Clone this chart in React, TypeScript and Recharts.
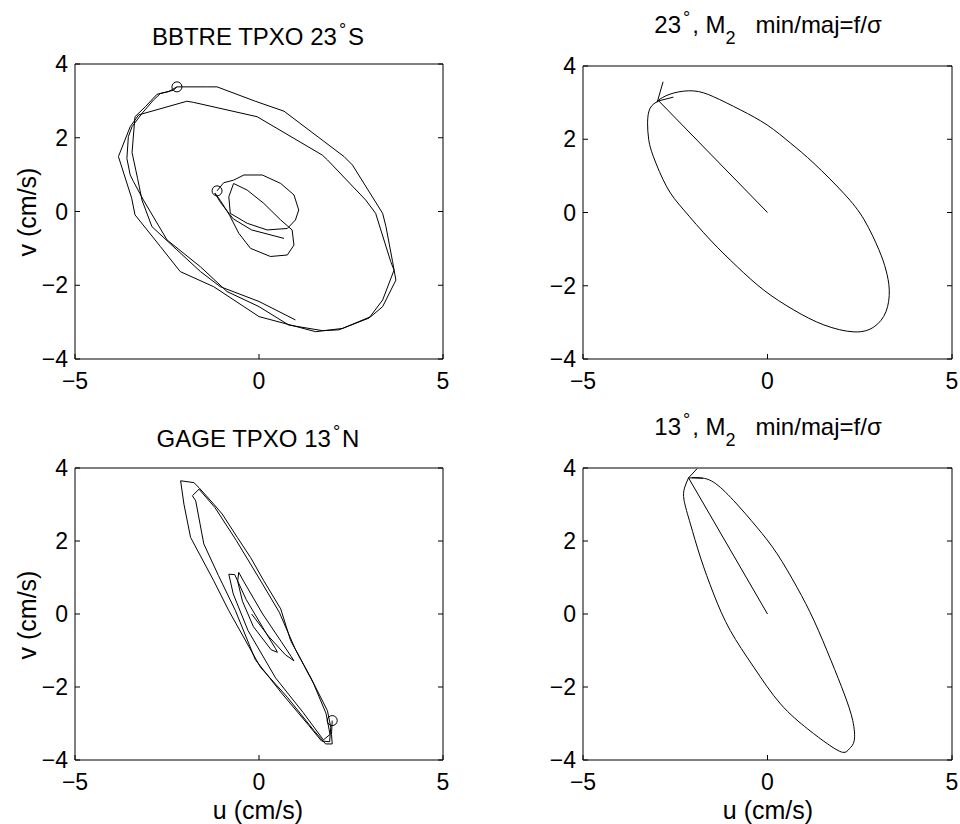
import React from "react";
import { LineChart, Line, XAxis, YAxis } from "recharts";

type Pt = [number, number];

const xTicks = [-5, 0, 5];
const yTicks = [-4, -2, 0, 2, 4];

// BBTRE 23S, TPXO hodograph: 2.5 turns round the big ellipse, starting at the circle
const bbtreOuter: Pt[] = [
  [-2.23, 3.38], [-2.32, 3.29], [-2.68, 3.2], [-2.87, 3.02], [-3.18, 2.66], [-3.45, 2.3],
  [-3.55, 2.03], [-3.59, 1.44], [-3.5, 0.99], [-3.41, 0.81], [-3.14, 0.31], [-2.5, -0.77],
  [-1.59, -1.5], [-0.87, -2.17], [0.0, -2.58], [0.81, -3.08], [1.72, -3.23], [2.17, -3.21],
  [2.99, -2.89], [3.36, -2.4], [3.67, -1.59], [3.58, -1.36], [3.17, -0.05], [2.9, 0.31],
  [1.86, 1.4], [1.72, 1.53], [-0.05, 2.57], [-1.78, 2.96], [-1.96, 2.99], [-3.27, 2.62],
  [-3.5, 2.3], [-3.82, 1.49], [-3.46, 0.36], [-3.37, -0.09], [-2.68, -0.95], [-2.14, -1.63],
  [-1.23, -2.04], [-0.41, -2.58], [0.0, -2.85], [1.54, -3.26], [2.27, -3.17], [3.04, -2.85],
  [3.36, -2.58], [3.72, -1.86], [3.63, -1.36], [3.45, -0.41], [3.36, -0.05], [2.54, 1.26],
  [2.31, 1.49], [0.68, 2.72], [-0.1, 2.99], [-1.14, 3.38], [-1.41, 3.38], [-2.23, 3.38],
  [-2.46, 3.25], [-2.77, 3.18], [-3.09, 2.84], [-3.37, 2.57], [-3.45, 1.6], [-3.3, 0.9],
  [-3.18, 0.31], [-2.91, -0.41], [-2.23, -1.04], [-1.59, -1.63], [-1.05, -2.04], [0.0, -2.44],
  [0.99, -2.94],
];

// BBTRE small ellipse (second record)
const bbtreInner: Pt[] = [
  [-1.14, 0.56], [-0.96, 0.78], [-0.69, 0.85], [-0.41, 0.99], [0.09, 0.99], [0.59, 0.76],
  [0.95, 0.45], [1.08, 0.04], [0.99, -0.23], [0.77, -0.46], [0.22, -0.5], [-0.32, -0.32],
  [-0.78, -0.05], [-0.82, 0.4], [-0.69, 0.76], [-0.32, 0.58], [0.13, 0.22], [0.59, -0.23],
  [0.9, -0.5], [0.95, -0.91], [0.77, -1.18], [0.31, -1.22], [-0.23, -1.0], [-0.55, -0.59],
  [-0.8, -0.1], [-1.05, 0.3], [-1.2, 0.5], [-1.05, 0.25], [-0.7, -0.2], [-0.2, -0.5],
  [0.68, -0.73],
];

const bbtreStarts: Pt[] = [[-2.23, 3.38], [-1.14, 0.56]];

// GAGE 13N, TPXO hodograph
const gageTrace: Pt[] = [
  [1.99, -2.92], [1.97, -3.3], [1.99, -3.56], [1.81, -3.56], [1.49, -3.19], [0.77, -2.28],
  [0.04, -1.46], [-0.82, 0.09], [-1.23, 0.91], [-1.86, 2.1], [-2.04, 3.01], [-2.13, 3.65],
  [-1.77, 3.6], [-1.63, 3.46], [-1.23, 3.01], [-1.0, 2.74], [-0.59, 2.1], [-0.23, 1.55],
  [0.13, 0.91], [0.59, 0.14], [0.86, -0.73], [1.4, -1.73], [1.86, -2.65], [1.95, -3.1],
  [1.92, -3.5], [1.7, -3.48], [1.35, -3.05], [0.6, -2.15], [-0.1, -1.25], [-0.64, 0.09],
  [-1.1, 1.05], [-1.5, 1.92], [-1.72, 3.1], [-1.81, 3.24], [-1.63, 3.42], [-1.2, 2.92],
  [-0.62, 2.02], [0.08, 0.85], [0.55, 0.05], [0.98, -0.95], [1.48, -1.9], [1.82, -2.72],
  [1.93, -3.3], [1.75, -3.45], [1.2, -2.7], [0.45, -1.75], [-0.3, -0.45], [-0.7, 0.55],
  [-0.82, 1.09], [-0.66, 1.08], [-0.35, 0.4], [0.15, -0.45], [0.45, -0.95], [0.5, -1.05],
  [0.33, -0.98], [-0.15, -0.35], [-0.45, 0.35], [-0.58, 0.9], [-0.55, 1.14], [-0.42, 0.9],
  [0.1, 0.0], [0.6, -0.75], [0.95, -1.28], [0.72, -1.12], [0.25, -0.6], [-0.2, 0.0],
];

const gageStarts: Pt[] = [[1.99, -2.92]];

// M2 ellipse at 23 degrees
const ellipse23: Pt[] = [
  [-2.95, 3.05], [-3.18, 2.85], [-3.25, 2.45], [-3.22, 2.0], [-3.09, 1.52], [-2.73, 0.7],
  [-2.27, 0.07], [-1.55, -0.75], [-0.82, -1.48], [-0.1, -2.12], [0.71, -2.66], [1.53, -3.07],
  [2.35, -3.26], [2.89, -3.12], [3.21, -2.71], [3.3, -2.12], [3.21, -1.57], [3.02, -1.02],
  [2.62, -0.2], [2.07, 0.52], [1.26, 1.34], [0.63, 1.89], [-0.01, 2.39], [-0.73, 2.8],
  [-1.46, 3.16], [-2.0, 3.32], [-2.55, 3.26], [-2.91, 3.1], [-3.0, 3.0],
];
const axis23: Pt[] = [[0, 0], [-2.95, 3.05]];
const arrow23: Pt[] = [[-2.83, 3.57], [-2.98, 3.04], [-2.55, 3.15]];

// M2 ellipse at 13 degrees
const ellipse13: Pt[] = [
  [-2.14, 3.73], [-2.25, 3.45], [-2.26, 3.11], [-2.09, 2.47], [-1.82, 1.56], [-1.46, 0.55],
  [-1.01, -0.45], [-0.37, -1.46], [0.35, -2.46], [1.09, -3.15], [1.63, -3.56], [2.04, -3.79],
  [2.22, -3.69], [2.35, -3.47], [2.31, -2.92], [2.08, -2.19], [1.72, -1.27], [1.26, -0.18],
  [0.8, 0.73], [0.26, 1.65], [-0.29, 2.38], [-0.92, 3.11], [-1.46, 3.61], [-1.82, 3.73],
  [-2.05, 3.74],
];
const axis13: Pt[] = [[0, 0], [-2.14, 3.73]];
const arrow13: Pt[] = [[-1.91, 3.98], [-2.14, 3.73], [-1.75, 3.72]];

const toRows = (pts: Pt[]) => pts.map(([u, v]) => ({ u, v }));

const FONT = '"Liberation Sans", Arial, Helvetica, sans-serif';
const fmt = (n: number) => (n < 0 ? `\u2212${-n}` : `${n}`);
const tickText = { fill: "#000", fontSize: 23, fontFamily: FONT };
const black = { stroke: "#000", strokeWidth: 1 };

type Trace = { pts: Pt[]; curve?: "linear" | "natural"; marker?: boolean };
type Box = { l: number; t: number; r: number; b: number };

function Panel({ left, top, box, traces }: { left: number; top: number; box: Box; traces: Trace[] }) {
  const w = 480;
  const h = 400;
  // every axis is 1px thick so that Recharts still draws it; margins make up the rest
  return (
    <div style={{ position: "absolute", left, top }}>
      <LineChart
        width={w}
        height={h}
        margin={{ left: box.l - 1, top: box.t - 1, right: w - box.r - 1, bottom: h - box.b - 1 }}
      >
        <XAxis
          type="number"
          dataKey="u"
          domain={[-5, 5]}
          ticks={xTicks}
          interval={0}
          allowDataOverflow
          height={1}
          tickSize={-5}
          tickMargin={19}
          tick={tickText}
          tickFormatter={fmt}
          axisLine={black}
          tickLine={black}
        />
        <XAxis
          xAxisId="top"
          orientation="top"
          type="number"
          domain={[-5, 5]}
          ticks={xTicks}
          interval={0}
          allowDataOverflow
          height={1}
          tickSize={-5}
          tickFormatter={() => ""}
          axisLine={black}
          tickLine={black}
        />
        <YAxis
          type="number"
          domain={[-4, 4]}
          ticks={yTicks}
          interval={0}
          allowDataOverflow
          width={1}
          tickSize={-5}
          tickMargin={12}
          tick={tickText}
          tickFormatter={fmt}
          axisLine={black}
          tickLine={black}
        />
        <YAxis
          yAxisId="right"
          orientation="right"
          type="number"
          domain={[-4, 4]}
          ticks={yTicks}
          interval={0}
          allowDataOverflow
          width={1}
          tickSize={-5}
          tickFormatter={() => ""}
          axisLine={black}
          tickLine={black}
        />
        {traces.map((t, i) =>
          t.marker ? (
            <Line
              key={i}
              data={toRows(t.pts)}
              dataKey="v"
              stroke="none"
              dot={{ r: 5, fill: "none", stroke: "#000", strokeWidth: 1 }}
              activeDot={false}
              isAnimationActive={false}
            />
          ) : (
            <Line
              key={i}
              data={toRows(t.pts)}
              dataKey="v"
              type={t.curve ?? "linear"}
              stroke="#000"
              strokeWidth={1}
              dot={false}
              activeDot={false}
              isAnimationActive={false}
            />
          )
        )}
      </LineChart>
    </div>
  );
}

const deg = (
  <span style={{ fontSize: 18, position: "relative", top: -9, margin: "0 2px" }}>°</span>
);
const sub2 = <span style={{ fontSize: 18, position: "relative", top: 11 }}>2</span>;

function Title({ cx, baseline, children }: { cx: number; baseline: number; children: React.ReactNode }) {
  return (
    <div
      style={{
        position: "absolute",
        left: cx - 200,
        width: 400,
        top: baseline - 20.5,
        textAlign: "center",
        fontFamily: FONT,
        fontSize: 24,
        lineHeight: "24px",
        whiteSpace: "pre",
        color: "#000",
      }}
    >
      {children}
    </div>
  );
}

function AxisLabel({ cx, cy, rotate, text }: { cx: number; cy: number; rotate?: boolean; text: string }) {
  return (
    <div
      style={{
        position: "absolute",
        left: cx,
        top: cy,
        transform: `translate(-50%, -50%)${rotate ? " rotate(-90deg)" : ""}`,
        fontFamily: FONT,
        fontSize: 25,
        lineHeight: "28px",
        whiteSpace: "nowrap",
        color: "#000",
      }}
    >
      {text}
    </div>
  );
}

export default function App() {
  return (
    <div style={{ position: "absolute", left: 0, top: 0, width: 960, height: 824, background: "#fff" }}>
      <Panel
        left={0}
        top={0}
        box={{ l: 75, t: 64, r: 443, b: 359 }}
        traces={[{ pts: bbtreOuter }, { pts: bbtreInner }, { pts: bbtreStarts, marker: true }]}
      />
      <Panel
        left={480}
        top={0}
        box={{ l: 103, t: 66, r: 472, b: 359 }}
        traces={[{ pts: ellipse23, curve: "natural" }, { pts: axis23 }, { pts: arrow23 }]}
      />
      <Panel
        left={0}
        top={400}
        box={{ l: 75, t: 68, r: 443, b: 360 }}
        traces={[{ pts: gageTrace }, { pts: gageStarts, marker: true }]}
      />
      <Panel
        left={480}
        top={400}
        box={{ l: 103, t: 68, r: 472, b: 360 }}
        traces={[{ pts: ellipse13, curve: "natural" }, { pts: axis13 }, { pts: arrow13 }]}
      />

      <Title cx={258} baseline={45}>BBTRE TPXO 23{deg}S</Title>
      <Title cx={768} baseline={33}>23{deg}, M{sub2}   min/maj=f/σ</Title>
      <Title cx={258} baseline={447}>GAGE TPXO 13{deg}N</Title>
      <Title cx={768} baseline={435}>13{deg}, M{sub2}   min/maj=f/σ</Title>

      <AxisLabel cx={27} cy={212} rotate text="v (cm/s)" />
      <AxisLabel cx={27} cy={615} rotate text="v (cm/s)" />
      <AxisLabel cx={258} cy={810} text="u (cm/s)" />
      <AxisLabel cx={768} cy={810} text="u (cm/s)" />
    </div>
  );
}
